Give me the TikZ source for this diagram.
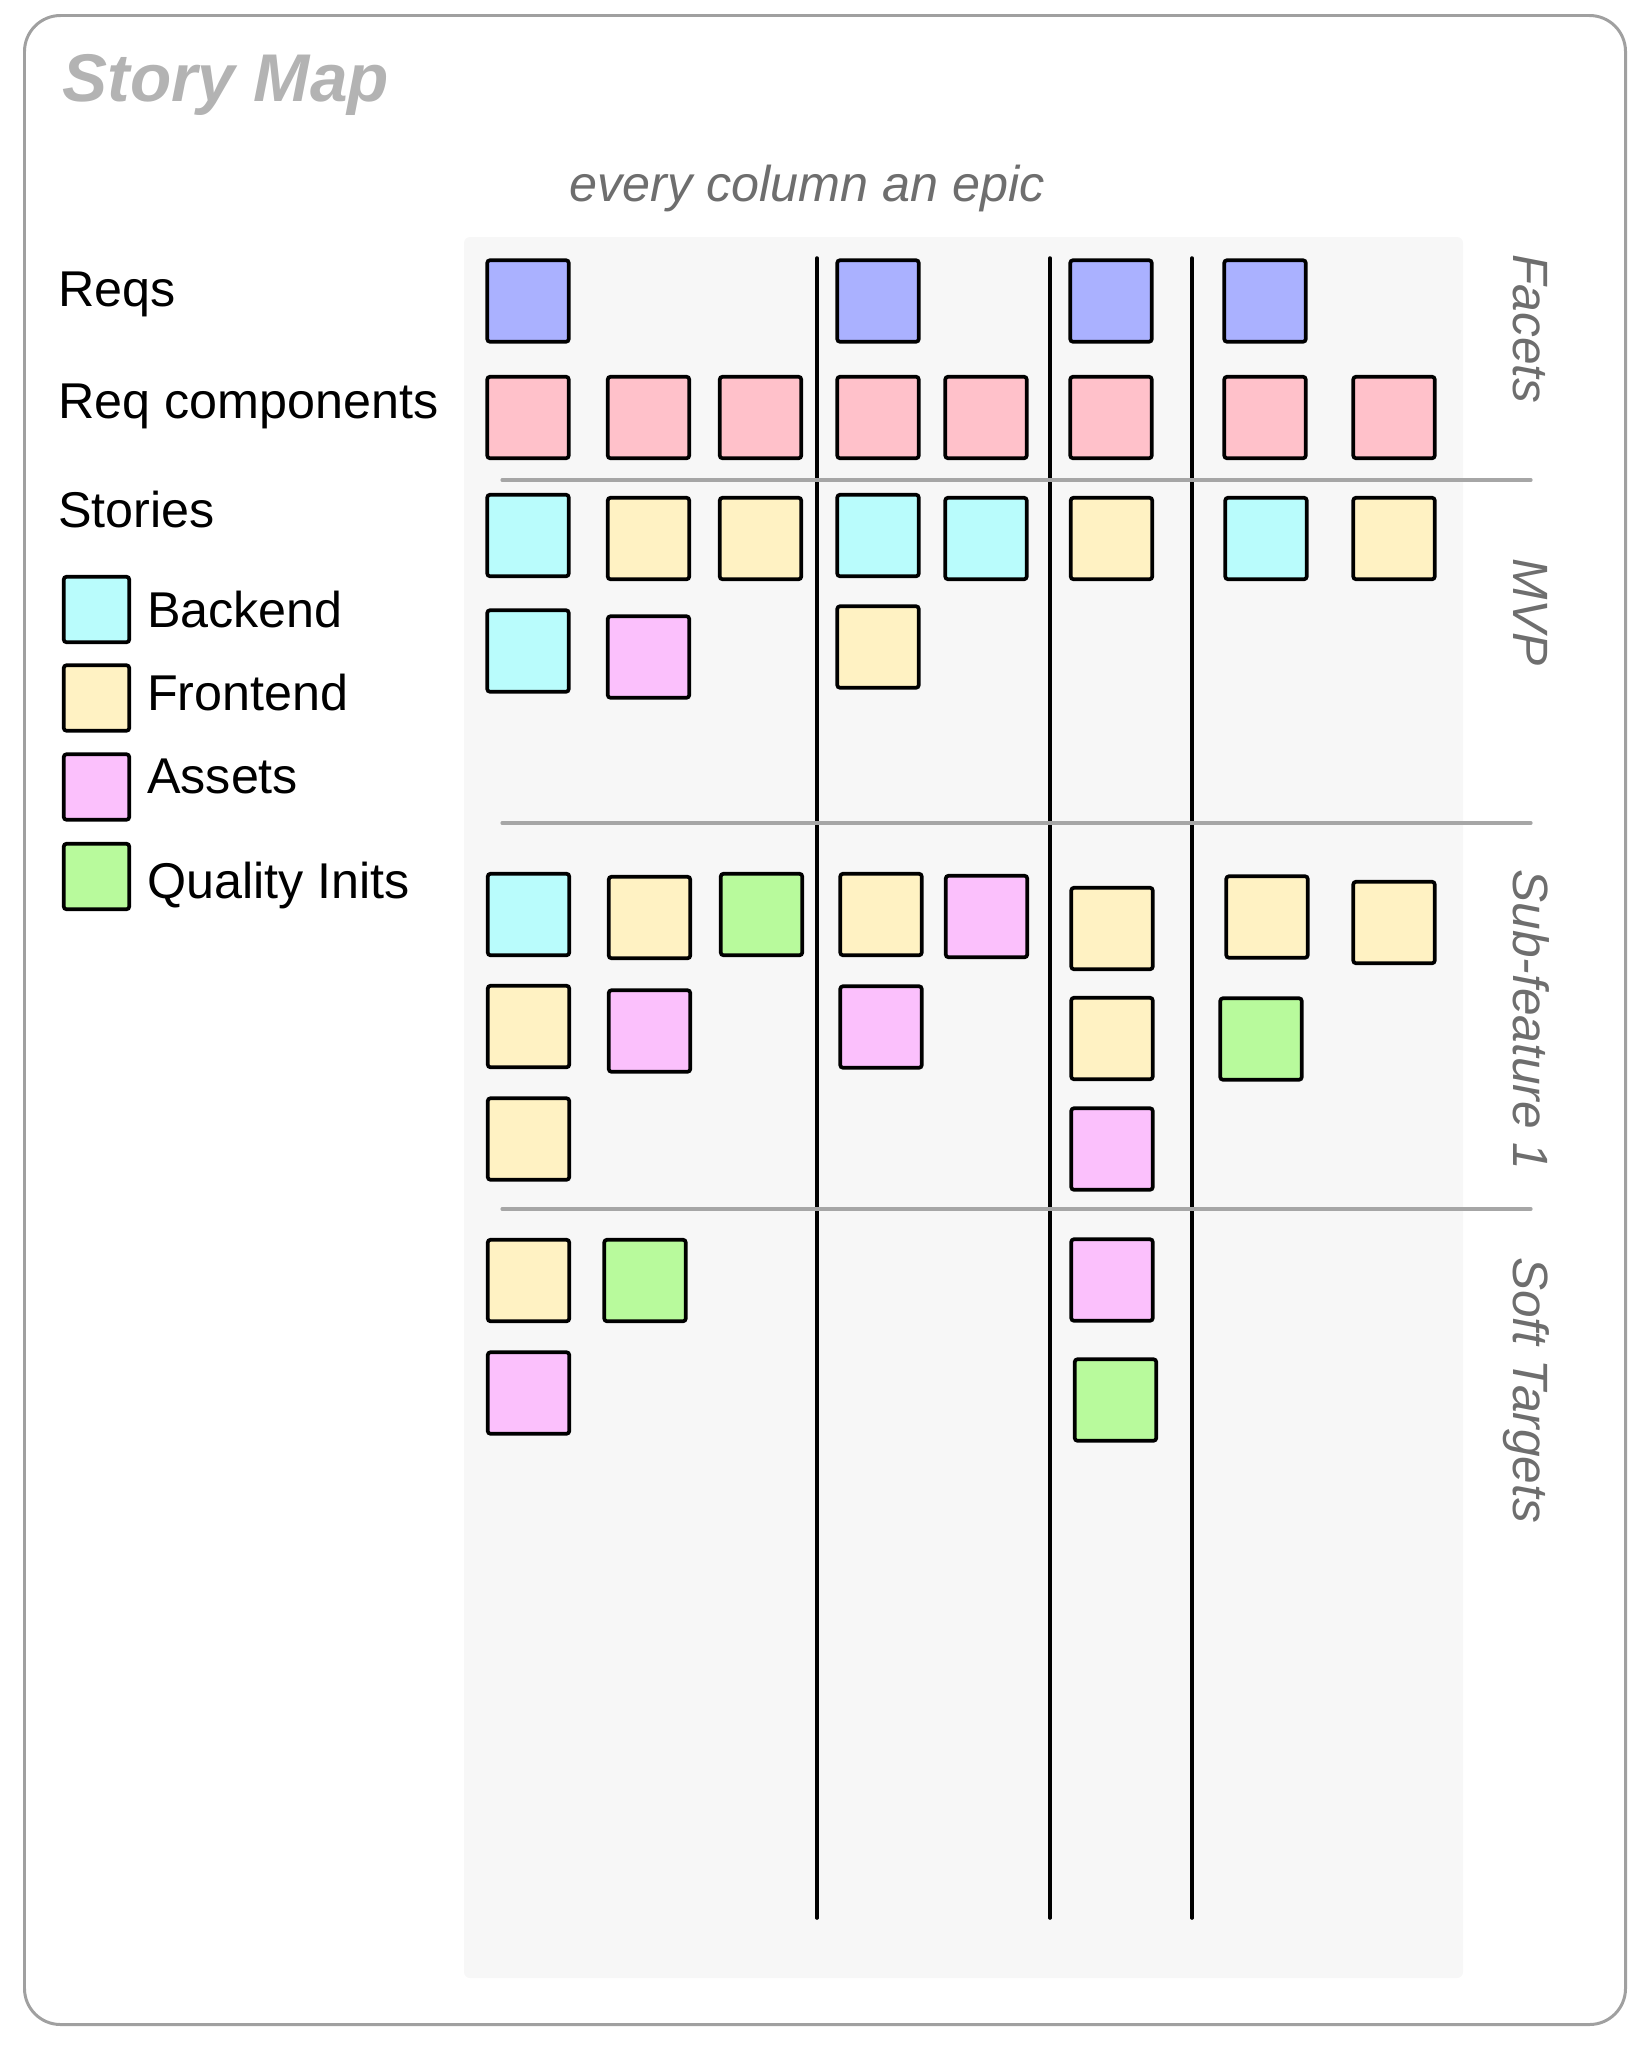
\documentclass[tikz,border=0pt]{standalone}
\usepackage{fontspec}
\setmainfont{Liberation Sans}
\usepackage{tikz}
\definecolor{reqblue}{HTML}{AAB1FF}
\definecolor{comppink}{HTML}{FFC1CA}
\definecolor{backcyan}{HTML}{B9FCFC}
\definecolor{frontyellow}{HTML}{FFF2C3}
\definecolor{assetpink}{HTML}{FBC0FC}
\definecolor{qualgreen}{HTML}{B8FA9C}
\definecolor{panelgray}{HTML}{F7F7F7}
\definecolor{framegray}{HTML}{A0A0A0}
\definecolor{titlegray}{HTML}{B3B3B3}
\definecolor{notegray}{HTML}{6E6E6E}
\definecolor{rulegray}{HTML}{A6A6A6}

\begin{document}
\begin{tikzpicture}[x=0.01cm,y=-0.01cm,
  card/.style={draw=black,line width=1.05pt,minimum size=0.815cm,inner sep=0pt,rounded corners=0.8pt},
  keybox/.style={card,minimum size=0.655cm},
  rowtext/.style={anchor=base west,inner sep=0pt,font=\fontsize{14.3}{17}\selectfont},
  sidetext/.style={rotate=-90,anchor=base,inner sep=0pt,text=notegray,font=\fontsize{14.1}{17}\selectfont\itshape}]
\useasboundingbox (0,0) rectangle (1647,2045);

% Frame and title
\draw[framegray,line width=0.85pt,rounded corners=0.36cm] (24.5,15.5) rectangle (1625.5,2024.5);
\node[anchor=base west,inner sep=0pt,text=titlegray,font=\fontsize{19.2}{23}\selectfont\bfseries\itshape] (title) at (62,101) {Story Map};
\node[anchor=base,inner sep=0pt,text=notegray,font=\fontsize{14.3}{17}\selectfont\itshape] (epic) at (807,201) {every column an epic};

% Board
\fill[panelgray,rounded corners=0.06cm] (464,237) rectangle (1463,1978);
\foreach \x in {817,1050,1192}
  \draw[line width=1pt,line cap=round] (\x,258) -- (\x,1918);
\foreach \y in {480,823,1209}
  \draw[rulegray,line width=0.9pt,line cap=round] (502,\y) -- (1531,\y);

% Row labels
\node[rowtext] (reqs) at (57.5,306) {Reqs};
\node[rowtext] (comps) at (57.5,418) {Req components};
\node[rowtext] (stories) at (57.5,527) {Stories};

% Legend
\node[keybox,fill=backcyan] (kback) at (96.5,609.5) {};
\node[keybox,fill=frontyellow] (kfront) at (96.5,698) {};
\node[keybox,fill=assetpink] (kasset) at (96.5,787) {};
\node[keybox,fill=qualgreen] (kqual) at (96.5,876.5) {};
\node[rowtext] (tback) at (146.5,627) {Backend};
\node[rowtext] (tfront) at (146.5,710) {Frontend};
\node[rowtext] (tasset) at (146.5,793) {Assets};
\node[rowtext] (tqual) at (146.5,898) {Quality Inits};

% Side labels
\node[sidetext] (facets) at (1513,329) {Facets};
\node[sidetext] (mvp) at (1513,612) {MVP};
\node[sidetext] (sub) at (1513,1020) {Sub-feature 1};
\node[sidetext] (soft) at (1513,1390) {Soft Targets};

% Reqs
\node[card,fill=reqblue] (req1) at (528,301) {};
\node[card,fill=reqblue] (req2) at (878,301) {};
\node[card,fill=reqblue] (req3) at (1111,301) {};
\node[card,fill=reqblue] (req4) at (1265,301) {};

% Req components
\node[card,fill=comppink] (comp1) at (528,417.5) {};
\node[card,fill=comppink] (comp2) at (648.5,417.5) {};
\node[card,fill=comppink] (comp3) at (760.5,417.5) {};
\node[card,fill=comppink] (comp4) at (878,417.5) {};
\node[card,fill=comppink] (comp5) at (986,417.5) {};
\node[card,fill=comppink] (comp6) at (1111,417.5) {};
\node[card,fill=comppink] (comp7) at (1265,417.5) {};
\node[card,fill=comppink] (comp8) at (1394,417.5) {};

% MVP
\node[card,fill=backcyan] (mvp1) at (528,535.5) {};
\node[card,fill=frontyellow] (mvp2) at (648.5,538.5) {};
\node[card,fill=frontyellow] (mvp3) at (760.5,538.5) {};
\node[card,fill=backcyan] (mvp4) at (878,535.5) {};
\node[card,fill=backcyan] (mvp5) at (986,538.5) {};
\node[card,fill=frontyellow] (mvp6) at (1111.5,538.5) {};
\node[card,fill=backcyan] (mvp7) at (1266,538.5) {};
\node[card,fill=frontyellow] (mvp8) at (1394,538.5) {};
\node[card,fill=backcyan] (mvp9) at (528,651) {};
\node[card,fill=assetpink] (mvp10) at (648.5,657) {};
\node[card,fill=frontyellow] (mvp11) at (878,647) {};

% Sub-feature 1
\node[card,fill=backcyan] (sub1) at (528.5,914.5) {};
\node[card,fill=frontyellow] (sub2) at (649.5,917.5) {};
\node[card,fill=qualgreen] (sub3) at (761.5,914.5) {};
\node[card,fill=frontyellow] (sub4) at (881,914.5) {};
\node[card,fill=assetpink] (sub5) at (986.5,916.5) {};
\node[card,fill=frontyellow] (sub6) at (1112,928.5) {};
\node[card,fill=frontyellow] (sub7) at (1267,917) {};
\node[card,fill=frontyellow] (sub8) at (1394,922.5) {};
\node[card,fill=frontyellow] (sub9) at (528.5,1026.5) {};
\node[card,fill=assetpink] (sub10) at (649.5,1031) {};
\node[card,fill=assetpink] (sub11) at (881,1027) {};
\node[card,fill=frontyellow] (sub12) at (1112,1038.5) {};
\node[card,fill=qualgreen] (sub13) at (1261,1039) {};
\node[card,fill=frontyellow] (sub14) at (528.5,1139) {};
\node[card,fill=assetpink] (sub15) at (1112,1149) {};

% Soft Targets
\node[card,fill=frontyellow] (soft1) at (528.5,1280.5) {};
\node[card,fill=qualgreen] (soft2) at (645,1280.5) {};
\node[card,fill=assetpink] (soft3) at (528.5,1393) {};
\node[card,fill=assetpink] (soft4) at (1112,1280) {};
\node[card,fill=qualgreen] (soft5) at (1115.5,1400) {};
\end{tikzpicture}
\end{document}
